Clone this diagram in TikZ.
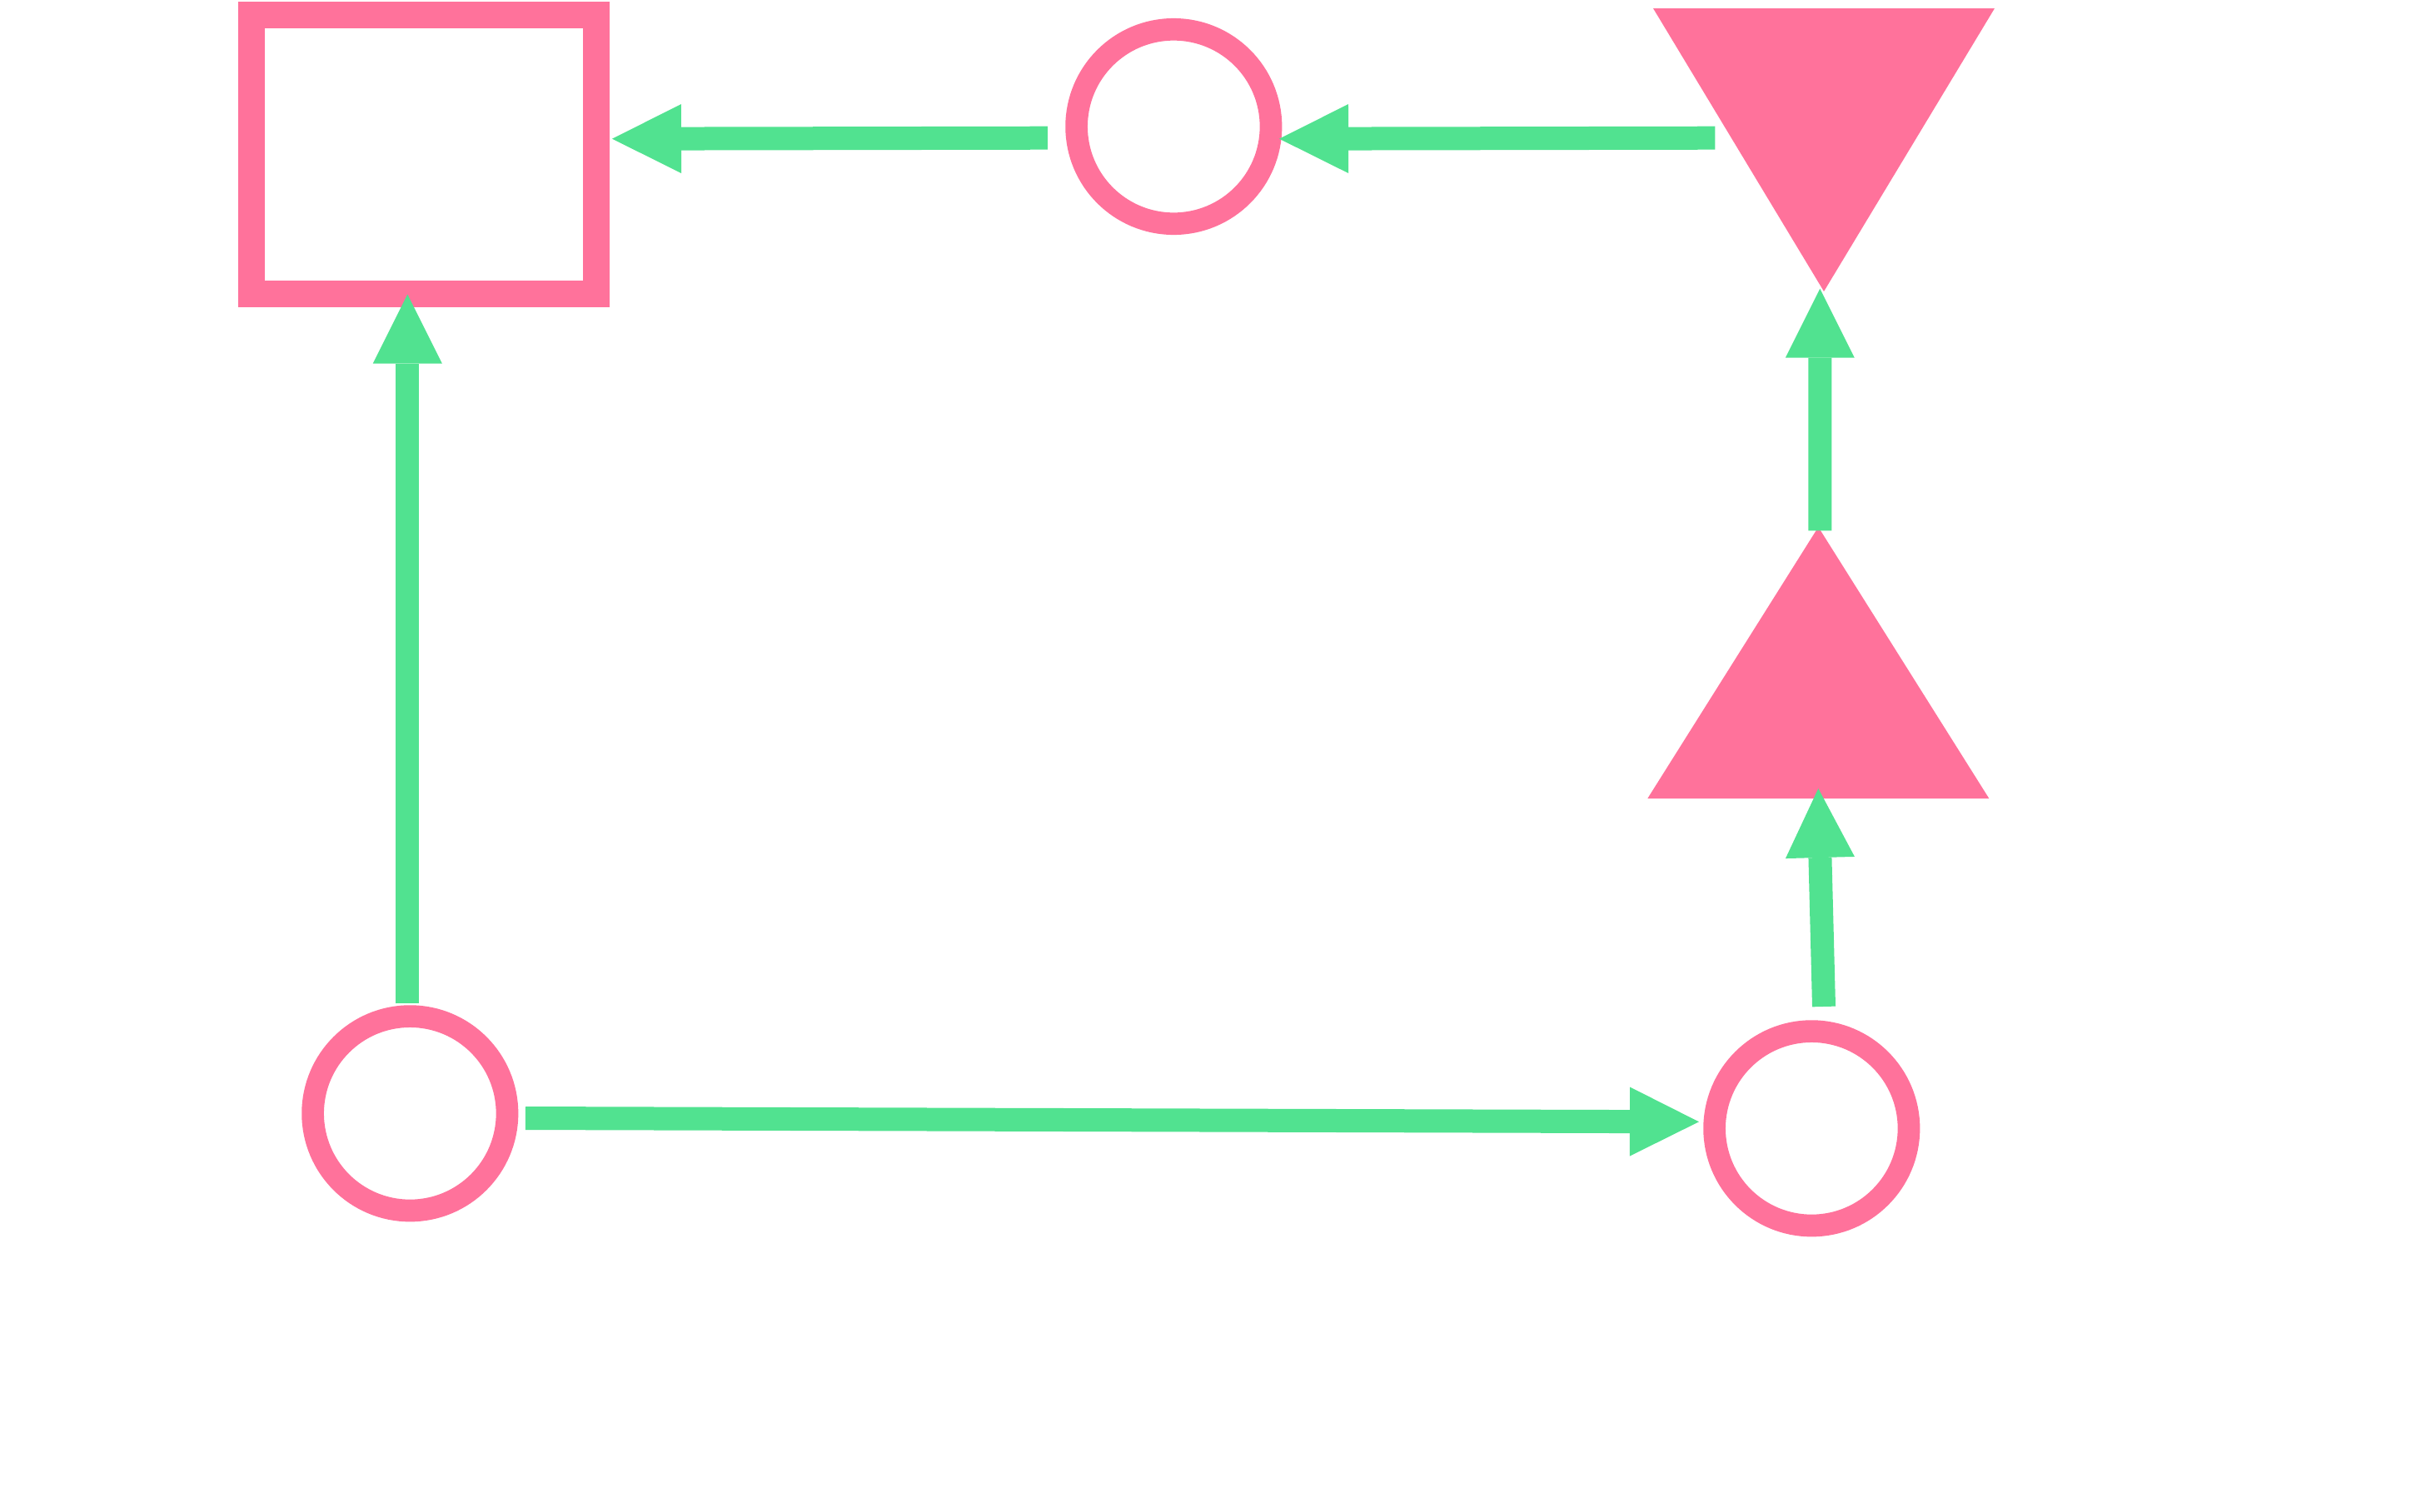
\documentclass[tikz,border=0pt]{standalone}
\usepackage{xcolor}
\usepackage{tikz}
\usetikzlibrary{arrows.meta, positioning, shapes.geometric}

\definecolor{pinkc}{HTML}{FF729B}
\definecolor{greenc}{HTML}{51E290}

\begin{document}
\begin{tikzpicture}[
  ring/.style={draw=pinkc, circle, line width=0.267cm, minimum size=2.334cm,
               inner sep=0pt},
  frame/.style={draw=pinkc, rectangle, line width=0.32cm, minimum width=4.14cm,
                minimum height=3.342cm, inner sep=0pt},
  tri/.style={isosceles triangle, isosceles triangle stretches, fill=pinkc,
              draw=none, inner sep=0pt, outer sep=0pt,
              minimum width=4.1cm, minimum height=3.4cm},
  arr/.style={-{Triangle[length=0.83cm, width=0.83cm, line width=0pt]},
              draw=greenc, line width=0.28cm}
]
  \useasboundingbox (0,0) rectangle (29.19,-18.15);

  \node[frame] (sq) at (5.093,-1.854) {};
  \node[ring] (ctop) at (14.093,-1.52) {};
  \node[tri, shape border rotate=-90, anchor=apex] (tdown) at (21.90,-3.50) {};
  \node[tri, shape border rotate=90, anchor=apex, minimum height=3.26cm] (tup) at (21.833,-6.33) {};
  \node[ring] (cbl) at (4.923,-13.373) {};
  \node[ring] (cbr) at (21.753,-13.553) {};

  \draw[arr] ([shift={(-0.213,-0.137)}]ctop.west) -- ([shift={(0.027,0.187)}]sq.east);
  \draw[arr] ([shift={(-1.307,1.843)}]tdown.apex) -- ([shift={(-0.033,-0.147)}]ctop.east);
  \draw[arr] ([shift={(-0.03,0.02)}]cbl.north) -- ([shift={(-0.20,0.15)}]sq.south);
  \draw[arr] ([shift={(0.02,-0.043)}]tup.apex) -- ([shift={(-0.047,0.033)}]tdown.apex);
  \draw[arr] ([shift={(0.147,0.163)}]cbr.north) -- ([shift={(0,0.12)}]tup.south);
  \draw[arr] ([shift={(0.086,-0.057)}]cbl.east) -- ([shift={(-0.053,0.08)}]cbr.west);
\end{tikzpicture}
\end{document}
